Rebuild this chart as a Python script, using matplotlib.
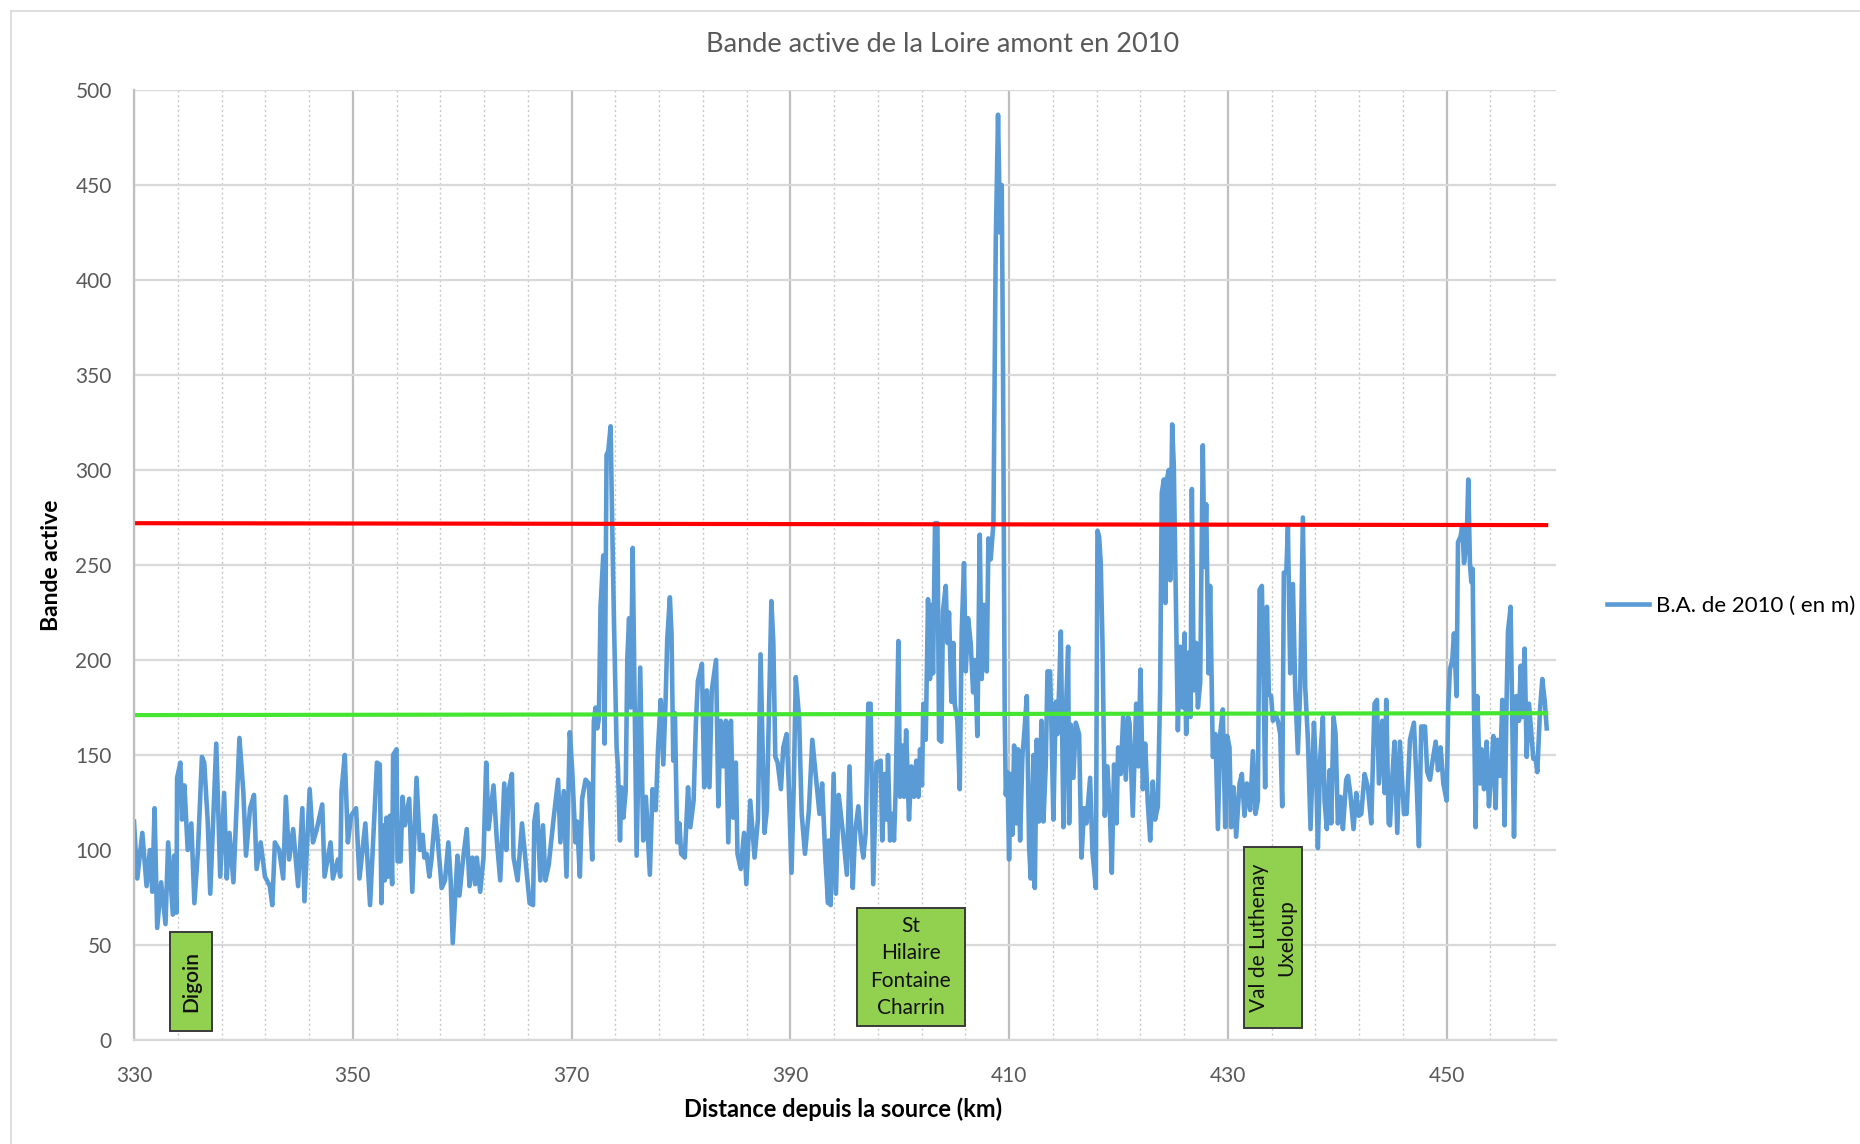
import numpy as np
import matplotlib.pyplot as plt
from matplotlib.patches import Rectangle

plt.rcParams['font.family'] = ['Lato', 'DejaVu Sans']

# Bande active (m), par tronçons
km_1 = [330.00, 330.30, 330.76, 331.15, 331.45, 331.67, 331.88, 332.12, 332.48, 332.88,
        333.12, 333.55, 333.67, 333.88, 333.94, 334.24, 334.39, 334.61, 334.91, 335.24,
        335.52, 335.85, 336.21, 336.42, 336.73, 336.97, 337.52, 337.88, 338.24, 338.48,
        338.73, 339.09, 339.64, 340.00, 340.24, 340.61, 340.97, 341.21, 341.58, 341.97,
        342.42, 342.64, 342.88, 343.27, 343.64, 343.88, 344.18, 344.55, 345.00, 345.39,
        345.58, 346.06, 346.36, 346.67, 347.21, 347.42, 347.97, 348.18, 348.64, 348.85,
        348.97, 349.27, 349.55, 349.85, 350.30, 350.61, 351.15, 351.58, 352.21]
ba_1 = [115, 85, 109, 81, 100, 78, 122, 59, 83, 61,
        104, 66, 97, 67, 138, 146, 116, 134, 100, 114,
        72, 100, 149, 146, 116, 77, 156, 86, 130, 85,
        109, 83, 159, 130, 97, 122, 129, 90, 104, 86,
        81, 71, 104, 100, 85, 128, 95, 111, 81, 122,
        73, 132, 104, 110, 124, 86, 104, 85, 95, 86,
        131, 150, 104, 118, 122, 85, 114, 71, 146]

km_2 = [352.47, 352.62, 352.78, 352.93, 353.08, 353.24, 353.39, 353.60, 353.69, 354.00,
        354.09, 354.37, 354.55, 354.76, 355.16, 355.44, 355.83, 356.14, 356.39, 356.54,
        356.75, 357.00, 357.21, 357.52, 357.73, 358.13, 358.43, 358.74, 358.95, 359.14,
        359.57, 359.75, 360.06, 360.42, 360.67, 360.94, 361.19, 361.34, 361.65, 361.95,
        362.20, 362.41, 362.87, 363.17, 363.48, 363.85, 364.03, 364.24, 364.55, 364.70,
        365.07, 365.47, 365.77, 366.17, 366.48, 366.60, 366.84, 367.15, 367.39, 367.61,
        367.91, 368.37, 368.77, 368.98, 369.29, 369.54, 369.84, 370.06, 370.36, 370.51,
        370.76, 370.97, 371.28, 371.58, 371.89, 372.04, 372.20, 372.35, 372.50, 372.65,
        372.90, 373.02, 373.20, 373.36, 373.57, 373.72, 373.88, 374.12, 374.24, 374.43,
        374.55, 374.74, 374.95, 375.10, 375.26, 375.41]
ba_2 = [145, 72, 113, 84, 117, 86, 118, 82, 150, 153,
        94, 94, 128, 113, 127, 78, 138, 100, 108, 96,
        98, 86, 96, 118, 108, 80, 84, 104, 84, 51,
        97, 76, 94, 111, 81, 96, 82, 96, 78, 96,
        146, 111, 134, 105, 84, 135, 100, 131, 140, 96,
        84, 114, 96, 72, 71, 115, 124, 84, 113, 84,
        92, 117, 137, 104, 131, 86, 162, 142, 104, 115,
        86, 127, 137, 135, 95, 168, 175, 164, 169, 228,
        255, 156, 308, 310, 323, 271, 220, 154, 144, 105,
        133, 117, 131, 201, 222, 175]

km_3 = [375.59, 375.95, 376.28, 376.55, 376.80, 377.16, 377.40, 377.70, 377.91, 378.15,
        378.39, 378.60, 378.75, 378.99, 379.14, 379.30, 379.45, 379.66, 379.87, 380.02,
        380.35, 380.65, 380.86, 381.16, 381.37, 381.55, 381.92, 382.13, 382.37, 382.61,
        382.82, 383.21, 383.42, 383.63, 383.87, 384.11, 384.33, 384.57, 384.78, 385.02,
        385.17, 385.47, 385.77, 385.98, 386.34, 386.73, 387.04, 387.28, 387.64, 387.85,
        388.27, 388.45, 388.63, 388.84, 389.14, 389.36, 389.66, 389.84, 390.11, 390.32,
        390.50, 390.80, 391.04, 391.34, 391.70, 392.01, 392.67, 392.91, 393.21, 393.45,
        393.51, 393.69, 393.96, 394.17, 394.42, 394.81, 395.17, 395.41, 395.71, 395.92,
        396.22, 396.46, 396.67, 396.89, 397.13, 397.34, 397.58, 397.88]
ba_3 = [259, 97, 196, 105, 128, 87, 132, 121, 154, 179,
        145, 179, 211, 233, 214, 147, 172, 104, 114, 98,
        96, 133, 112, 126, 167, 189, 198, 133, 184, 133,
        184, 200, 123, 168, 144, 168, 104, 168, 117, 146,
        98, 90, 109, 82, 126, 96, 116, 203, 109, 121,
        231, 209, 149, 146, 132, 154, 161, 137, 88, 135,
        191, 170, 119, 98, 121, 158, 119, 135, 95, 72,
        105, 71, 140, 77, 129, 109, 87, 144, 80, 109,
        123, 105, 96, 109, 177, 177, 82, 146]

km_4 = [398.26, 398.41, 398.63, 398.81, 398.93, 399.12, 399.33, 399.48, 399.63, 399.88,
        400.03, 400.24, 400.40, 400.59, 400.85, 401.07, 401.31, 401.52, 401.71, 401.86,
        402.04, 402.16, 402.38, 402.59, 402.77, 402.90, 403.05, 403.23, 403.45, 403.60,
        403.81, 403.96, 404.21, 404.36, 404.51, 404.73, 404.91, 405.03, 405.27, 405.49,
        405.67, 405.88, 406.04, 406.25, 406.49, 406.71, 406.89, 407.10, 407.32, 407.50,
        407.71, 407.96, 408.11, 408.32, 408.57, 408.78, 408.99, 409.18, 409.33, 409.45,
        409.60, 409.70, 409.85, 410.00, 410.15, 410.30, 410.46, 410.67, 410.82, 411.01,
        411.22, 411.37, 411.62, 411.83, 411.98, 412.23, 412.35, 412.53, 412.74, 412.96,
        413.14, 413.35, 413.51, 413.75, 413.90, 414.05, 414.27, 414.42, 414.57, 414.73,
        414.97, 415.18, 415.40, 415.49, 415.64, 415.88, 416.10, 416.40, 416.62, 416.86,
        417.07, 417.41, 417.62, 417.93, 418.08, 418.23, 418.38, 418.54, 418.75, 418.99,
        419.24, 419.39, 419.60, 419.82, 419.97, 420.21, 420.43, 420.67, 420.88]
ba_4 = [147, 105, 140, 116, 150, 105, 119, 105, 131, 210,
        128, 155, 128, 163, 116, 144, 128, 147, 128, 153,
        134, 177, 158, 232, 190, 229, 193, 272, 272, 158,
        157, 226, 239, 209, 225, 178, 209, 177, 168, 132,
        215, 251, 194, 222, 209, 183, 200, 160, 266, 190,
        229, 194, 264, 253, 272, 419, 487, 425, 450, 350,
        171, 129, 141, 95, 140, 108, 155, 114, 153, 105,
        150, 160, 181, 102, 85, 150, 80, 158, 115, 168,
        115, 144, 194, 194, 158, 116, 178, 161, 184, 215,
        112, 171, 207, 114, 166, 138, 167, 161, 96, 122,
        114, 138, 99, 80, 268, 265, 251, 209, 118, 144,
        116, 88, 145, 114, 154, 140, 170, 137, 170]

km_5 = [421.01, 421.31, 421.62, 421.83, 422.01, 422.23, 422.44, 422.68, 422.90, 423.14,
        423.35, 423.60, 423.81, 423.96, 424.15, 424.30, 424.42, 424.60, 424.73, 424.91,
        425.06, 425.21, 425.43, 425.64, 425.88, 426.04, 426.19, 426.43, 426.59, 426.71,
        426.89, 427.10, 427.26, 427.47, 427.71, 427.87, 428.02, 428.23, 428.38, 428.63,
        428.87, 429.09, 429.30, 429.54, 429.76, 429.94, 430.15, 430.30, 430.52, 430.76,
        431.07, 431.28, 431.52, 431.74, 432.04, 432.29, 432.53, 432.74, 432.90, 433.11,
        433.26, 433.41, 433.57, 433.75, 433.96, 434.12, 434.33, 434.57, 434.79, 434.97,
        435.12, 435.34, 435.49, 435.70, 435.95, 436.16, 436.40, 436.62, 436.86, 437.07,
        437.32, 437.56, 437.87, 438.08, 438.23, 438.45, 438.69, 438.84, 439.05, 439.30,
        439.45, 439.66, 439.85, 440.06, 440.30, 440.52, 440.82, 440.98, 441.19, 441.49,
        441.74, 441.98, 442.20, 442.50, 442.80, 443.11, 443.41, 443.63, 443.81, 444.12,
        444.33, 444.48, 444.70]
ba_5 = [167, 118, 177, 144, 195, 132, 156, 125, 105, 136,
        116, 123, 184, 288, 295, 230, 295, 300, 242, 324,
        302, 247, 163, 207, 175, 214, 161, 204, 170, 290,
        184, 209, 175, 188, 313, 249, 282, 193, 239, 149,
        161, 111, 161, 174, 112, 160, 154, 112, 133, 107,
        135, 140, 118, 135, 121, 152, 119, 126, 237, 239,
        191, 133, 228, 182, 181, 168, 172, 168, 161, 123,
        246, 246, 270, 193, 240, 184, 151, 186, 275, 186,
        158, 111, 167, 139, 101, 149, 170, 126, 111, 142,
        114, 170, 161, 114, 128, 111, 137, 139, 130, 111,
        130, 118, 119, 140, 133, 114, 177, 179, 135, 168,
        130, 179, 114]

km_6 = [444.82, 445.03, 445.24, 445.49, 445.73, 445.95, 446.10, 446.34, 446.65, 447.01,
        447.26, 447.47, 447.68, 448.02, 448.23, 448.48, 448.69, 449.00, 449.21, 449.45,
        449.70, 450.00, 450.15, 450.30, 450.52, 450.67, 450.91, 451.04, 451.28, 451.43,
        451.59, 451.83, 451.98, 452.13, 452.26, 452.38, 452.50, 452.65, 452.80, 453.05,
        453.20, 453.41, 453.66, 453.87, 454.09, 454.27, 454.48, 454.63, 454.88, 455.09,
        455.30, 455.49, 455.61, 455.85, 456.01, 456.16, 456.37, 456.62, 456.77, 456.92,
        457.13, 457.32, 457.53, 457.74, 457.93, 458.14, 458.29, 458.54, 458.75, 458.99,
        459.15]
ba_6 = [113, 138, 157, 109, 157, 135, 119, 119, 158, 167,
        135, 102, 165, 165, 141, 137, 146, 157, 142, 154,
        135, 126, 176, 195, 200, 214, 181, 262, 265, 271,
        251, 262, 295, 251, 241, 248, 176, 112, 181, 135,
        153, 132, 157, 123, 142, 160, 122, 158, 139, 179,
        113, 181, 215, 228, 164, 107, 181, 168, 197, 170,
        206, 149, 177, 162, 148, 148, 141, 174, 190, 177,
        164]

# seuils horizontaux (rouge et vert)
seuil_km = [330, 459.1]
seuil_haut = [272, 271]
seuil_bas = [171, 172]

km = np.concatenate([km_1, km_2, km_3, km_4, km_5, km_6])
ba = np.concatenate([ba_1, ba_2, ba_3, ba_4, ba_5, ba_6])
assert len(km) == len(ba)

W, H = 1860, 1144
fig = plt.figure(figsize=(W / 100, H / 100), dpi=100)
ax = fig.add_axes([134 / W, 1 - 1040 / H, (1556 - 134) / W, (1040 - 90) / H])

ax.plot(km, ba, color='#5b9bd5', lw=3.3, solid_joinstyle='round', label='B.A. de 2010 ( en m)')
ax.plot(seuil_km, seuil_haut, color='#ff0000', lw=3.0)
ax.plot(seuil_km, seuil_bas, color='#44e632', lw=3.0)

ax.set_xlim(330, 460)
ax.set_ylim(0, 500)
ax.set_xticks(np.arange(330, 451, 20))
ax.set_xticks(np.arange(330, 461, 4), minor=True)
ax.set_yticks(np.arange(0, 501, 50))
ax.set_axisbelow(True)
ax.grid(which='major', axis='x', color='#bfbfbf', lw=1.6)
ax.grid(which='minor', axis='x', color='#c8c8c8', lw=1.0, ls=(0, (1.5, 2)))
ax.grid(which='major', axis='y', color='#d9d9d9', lw=1.6)
for s in ['top', 'right']:
    ax.spines[s].set_visible(False)
ax.spines['left'].set_color('#bfbfbf')
ax.spines['left'].set_linewidth(1.6)
ax.spines['bottom'].set_color('#d9d9d9')
ax.spines['bottom'].set_linewidth(1.6)
ax.tick_params(which='both', length=0, labelsize=15, labelcolor='#595959')
ax.tick_params(axis='x', pad=19)
ax.tick_params(axis='y', pad=16)

# cadres des localités
boites = [
    (333.25, 5.0, 3.9, 51.8, 'Digoin', 90, 'semibold'),
    (396.07, 7.5, 9.9, 61.8, 'St\nHilaire\nFontaine\nCharrin', 0, 'normal'),
    (431.44, 6.2, 5.3, 95.5, 'Val de Luthenay\nUxeloup', 90, 'normal'),
]
for x0, y0, w, h, txt, rot, poids in boites:
    ax.add_patch(Rectangle((x0, y0), w, h, facecolor='#92d050', edgecolor='#3a3a3a',
                           lw=1.4, zorder=5))
    ax.text(x0 + w / 2, y0 + h / 2, txt, rotation=rot, ha='center', va='center',
            multialignment='center', fontsize=15, fontweight=poids, color='#111111',
            linespacing=1.45, zorder=6)

fig.text(943 / W, 1 - 44 / H, 'Bande active de la Loire amont en 2010', ha='center', va='center',
         fontsize=19.5, color='#595959')
fig.text(843 / W, 1 - 1109 / H, 'Distance depuis la source (km)', ha='center', va='center',
         fontsize=17, fontweight='bold', color='black')
fig.text(52 / W, 1 - 565 / H, 'Bande active', ha='center', va='center', rotation=90,
         fontsize=16.5, fontweight='bold', color='black')

ax.legend(loc='center left', bbox_to_anchor=(1607 / W, 1 - 606 / H), bbox_transform=fig.transFigure,
          frameon=False, fontsize=16, handlelength=1.9, handletextpad=0.3, borderpad=0,
          borderaxespad=0)

# bordure du graphique
fig.add_artist(plt.Line2D([11 / W, 11 / W], [0, 1 - 11 / H], color='#d9d9d9', lw=1.2))
fig.add_artist(plt.Line2D([11 / W, 1], [1 - 11 / H, 1 - 11 / H], color='#d9d9d9', lw=1.2))

fig.savefig('out.png', dpi=100)
